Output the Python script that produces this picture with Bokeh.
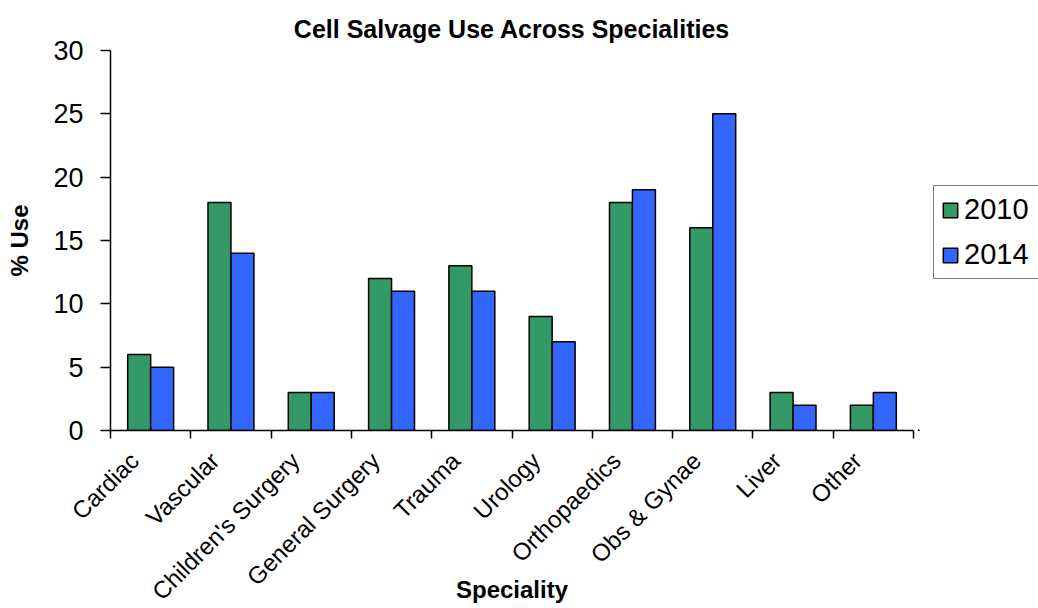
import math
from bokeh.plotting import figure
from bokeh.layouts import row
from bokeh.models import ColumnDataSource, FixedTicker, Legend, LegendItem, Range1d, Title
from bokeh.embed import file_html
from bokeh.resources import INLINE

categories = ["Cardiac", "Vascular", "Children's Surgery", "General Surgery", "Trauma",
              "Urology", "Orthopaedics", "Obs & Gynae", "Liver", "Other"]
use_2010 = [6, 18, 3, 12, 13, 9, 18, 16, 3, 2]
use_2014 = [5, 14, 3, 11, 11, 7, 19, 25, 2, 3]
series_names = ["2010", "2014"]
y_ticks = [0, 5, 10, 15, 20, 25, 30]

FONT = "Liberation Sans"
GREEN = "#339966"
BLUE = "#3366FF"
BW = 0.286
LABEL_SHIFT = 0.2  # rotated category labels sit slightly left of the group centre

centers = [i + 0.5 for i in range(len(categories))]
label_pos = [c - LABEL_SHIFT for c in centers]
src = ColumnDataSource(dict(
    x10=[c - BW / 2 for c in centers],
    x14=[c + BW / 2 for c in centers],
    v10=use_2010, v14=use_2014,
))

p = figure(width=918, height=608, output_backend="svg", toolbar_location=None,
           x_range=Range1d(0, len(categories)), y_range=Range1d(0, 30),
           min_border_left=110, min_border_right=5, min_border_top=50, min_border_bottom=178)
p.outline_line_color = None
p.grid.grid_line_color = None
p.background_fill_color = "white"
p.border_fill_color = "white"

p.vbar(x="x10", top="v10", width=BW, source=src, fill_color=GREEN,
       line_color="black", line_width=1.5)
p.vbar(x="x14", top="v14", width=BW, source=src, fill_color=BLUE,
       line_color="black", line_width=1.5)

# x axis
xa = p.xaxis[0]
xa.ticker = FixedTicker(ticks=label_pos, minor_ticks=list(range(len(categories) + 1)))
xa.major_label_overrides = {c: n for c, n in zip(label_pos, categories)}
xa.major_tick_line_color = None
xa.major_tick_in = 0
xa.major_tick_out = 0
xa.minor_tick_in = 0
xa.minor_tick_out = 8
xa.minor_tick_line_color = "black"
xa.minor_tick_line_width = 1.5
xa.axis_line_color = "black"
xa.axis_line_width = 1.5
xa.major_label_orientation = math.pi / 4
xa.major_label_text_font = FONT
xa.major_label_text_font_size = "24px"
xa.major_label_text_color = "black"
xa.major_label_standoff = 18
xa.axis_label = "Speciality"
xa.axis_label_text_font = FONT
xa.axis_label_text_font_style = "bold"
xa.axis_label_text_font_size = "24px"
xa.axis_label_text_color = "black"
xa.axis_label_standoff = -42

# y axis
ya = p.yaxis[0]
ya.ticker = FixedTicker(ticks=y_ticks)
ya.minor_tick_line_color = None
ya.major_tick_in = 0
ya.major_tick_out = 10
ya.major_tick_line_width = 1.5
ya.axis_line_width = 1.5
ya.axis_line_color = "black"
ya.major_label_text_font = FONT
ya.major_label_text_font_size = "27px"
ya.major_label_text_color = "black"
ya.major_label_standoff = 17
ya.axis_label = "% Use"
ya.axis_label_text_font = FONT
ya.axis_label_text_font_style = "bold"
ya.axis_label_text_font_size = "24px"
ya.axis_label_text_color = "black"
ya.axis_label_standoff = 17

p.title = Title(text="Cell Salvage Use Across Specialities", align="center",
                text_font=FONT, text_font_size="25px", text_font_style="bold",
                text_color="black", standoff=15)

# legend panel (separate figure to the right of the plot); its swatch glyphs
# reuse the data source but this panel's ranges keep them out of view
q = figure(width=120, height=608, output_backend="svg", toolbar_location=None,
           x_range=Range1d(1000, 1001), y_range=Range1d(1000, 1001),
           x_axis_location=None, y_axis_location=None,
           min_border_left=0, min_border_right=0, min_border_top=0, min_border_bottom=0)
q.outline_line_color = None
q.grid.grid_line_color = None
q.background_fill_color = "white"
q.border_fill_color = "white"
g10 = q.vbar(x="x10", top="v10", width=BW, source=src, fill_color=GREEN,
             line_color="black", line_width=1.5)
g14 = q.vbar(x="x14", top="v14", width=BW, source=src, fill_color=BLUE,
             line_color="black", line_width=1.5)

legend = Legend(items=[LegendItem(label=series_names[0], renderers=[g10]),
                       LegendItem(label=series_names[1], renderers=[g14])],
                location=(15, 151), border_line_color="black", border_line_width=1.5,
                label_text_font=FONT, label_text_font_size="29px", label_text_color="black",
                glyph_width=18, glyph_height=18, spacing=12, padding=7, margin=0,
                label_standoff=5, label_width=90, background_fill_alpha=1.0)
q.add_layout(legend, "center")

layout = row(p, q, spacing=0)
open("out.html", "w").write(file_html(layout, INLINE))
